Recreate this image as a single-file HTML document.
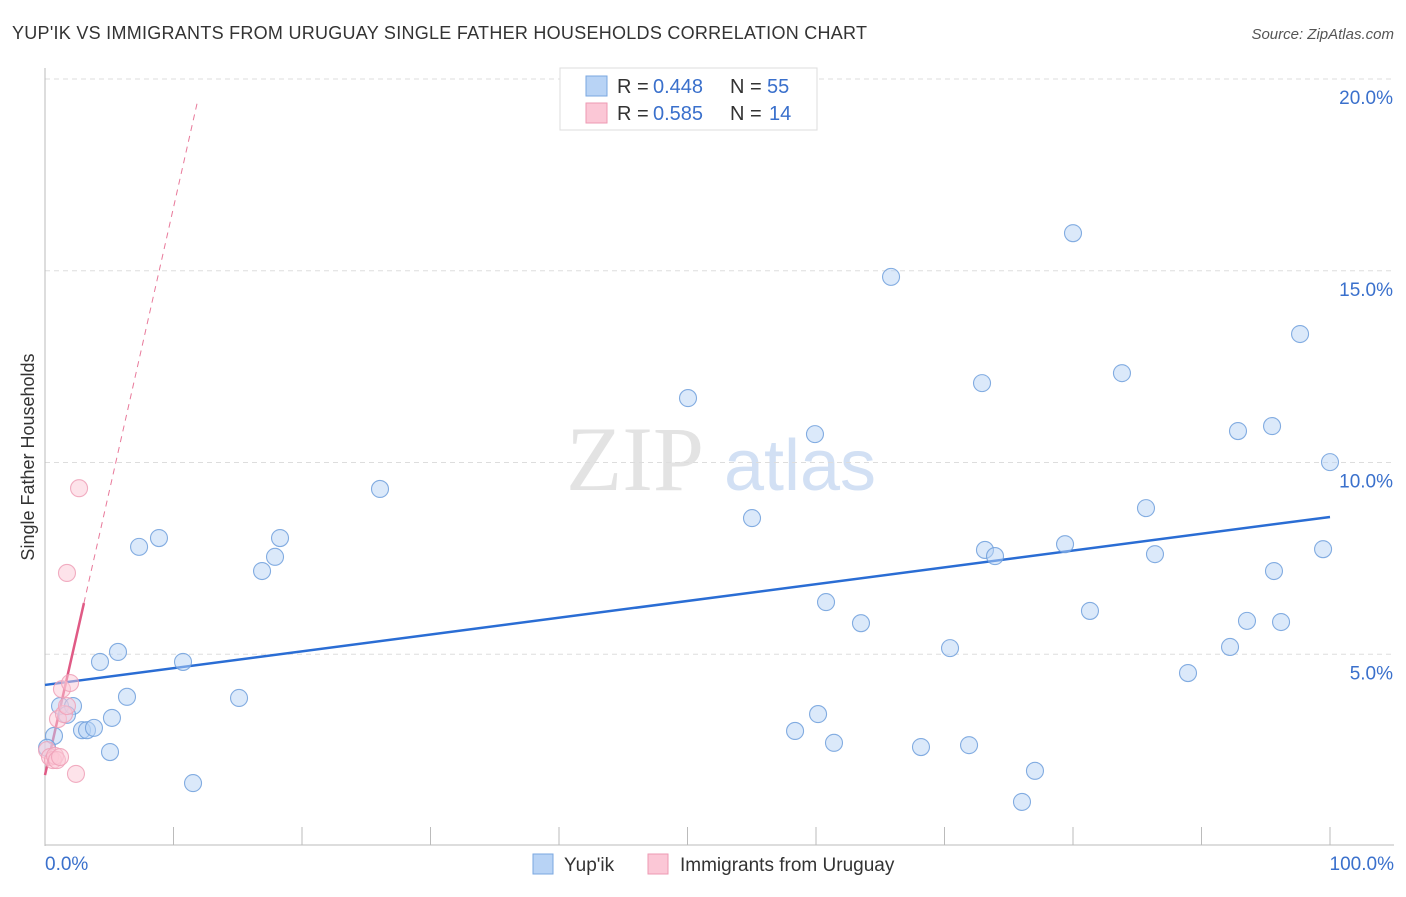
<!DOCTYPE html>
<html><head><meta charset="utf-8"><style>
body{margin:0;background:#fff;font-family:"Liberation Sans",sans-serif}
</style></head><body>
<svg width="1406" height="892" viewBox="0 0 1406 892" xmlns="http://www.w3.org/2000/svg" font-family="Liberation Sans, sans-serif">
<text x="12" y="39" font-size="18" fill="#333" textLength="855">YUP'IK VS IMMIGRANTS FROM URUGUAY SINGLE FATHER HOUSEHOLDS CORRELATION CHART</text>
<text x="1394" y="39" font-size="15" fill="#555" font-style="italic" text-anchor="end">Source: ZipAtlas.com</text>
<g>
<text x="635" y="490" font-size="92" fill="#ddd" font-family="Liberation Serif, serif" text-anchor="middle" opacity="0.8">ZIP</text>
<text x="800" y="490" font-size="72" fill="#c7d9f2" text-anchor="middle" opacity="0.8">atlas</text>
</g>
<g id="grid"></g>
<g id="axes"></g>
<text transform="translate(34,457) rotate(-90)" font-size="18" fill="#333" text-anchor="middle">Single Father Households</text>
<g id="lines"></g>
<g id="pts"></g>
<g>
<rect x="560" y="68" width="257" height="62" fill="#fff" stroke="#ddd"/>
<rect x="586" y="76" width="21" height="20" fill="#b8d3f5" stroke="#7aa7e0"/>
<text x="617" y="93" font-size="20" fill="#333">R =</text>
<text x="653" y="93" font-size="20" fill="#3a70cc">0.448</text>
<text x="730" y="93" font-size="20" fill="#333">N =</text>
<text x="767" y="93" font-size="20" fill="#3a70cc">55</text>
<rect x="586" y="103" width="21" height="20" fill="#fbc7d6" stroke="#ee9ab3"/>
<text x="617" y="120" font-size="20" fill="#333">R =</text>
<text x="653" y="120" font-size="20" fill="#3a70cc">0.585</text>
<text x="730" y="120" font-size="20" fill="#333">N =</text>
<text x="769" y="120" font-size="20" fill="#3a70cc">14</text>
</g>
<g>
<rect x="533" y="854" width="20" height="20" fill="#b8d3f5" stroke="#7aa7e0"/>
<text x="564" y="871" font-size="19" fill="#333">Yup'ik</text>
<rect x="648" y="854" width="20" height="20" fill="#fbc7d6" stroke="#ee9ab3"/>
<text x="680" y="871" font-size="19" fill="#333">Immigrants from Uruguay</text>
</g>
</svg>
<script>
const yTicks=[5,10,15,20];
const yTickLabels=["5.0%","10.0%","15.0%","20.0%"];
const xEndLabels=["0.0%","100.0%"];
const blueX=[0.7,0.16,1.17,2.18,2.88,3.27,3.81,4.28,5.21,5.68,5.06,6.38,7.32,8.87,10.74,11.52,15.1,16.89,17.9,18.29,26.07,50.04,55.02,58.37,59.92,60.16,60.78,61.4,63.5,65.84,68.17,70.43,71.91,72.92,73.15,73.93,76.03,77.04,79.38,80,81.32,83.81,85.68,86.38,88.95,92.22,92.84,93.54,95.49,95.64,96.19,97.67,99.46,100,1.71];
const blueY=[2.87,2.56,3.65,3.65,3.02,3.02,3.08,4.8,3.34,5.06,2.45,3.89,7.8,8.03,4.8,1.64,3.86,7.17,7.54,8.03,9.31,11.68,8.55,3.0,10.74,3.44,6.36,2.69,5.81,14.84,2.58,5.16,2.63,12.07,7.72,7.56,1.15,1.96,7.87,15.98,6.13,12.33,8.81,7.61,4.51,5.19,10.82,5.87,10.95,7.17,5.84,13.35,7.74,10.01,3.42];
const pinkX=[0.16,0.39,0.62,0.78,1.01,1.32,1.48,1.71,1.95,1.71,2.65,2.41,0.93,1.17];
const pinkY=[2.5,2.32,2.24,2.35,3.31,4.09,3.44,3.65,4.25,7.12,9.33,1.88,2.24,2.32];
const blueFit=[4.2,0.0438]; // intercept, slope
const pinkFit=[1.85,1.48];
const pinkSolidEnd=3.03, pinkDashEnd=11.83;
const NS="http://www.w3.org/2000/svg";
const X=v=>45+v*12.85, Y=v=>846-v*38.35;
function mk(tag,attrs,parent){const e=document.createElementNS(NS,tag);for(const k in attrs)e.setAttribute(k,attrs[k]);document.getElementById(parent).appendChild(e);return e;}
yTicks.forEach((t,i)=>{
 const g=mk('line',{x1:45,x2:1394,y1:Y(t),y2:Y(t),stroke:'#ddd','stroke-dasharray':'5,4'},'grid');
 
 
 const l=mk('text',{x:1393,y:Y(t)+25,'font-size':19,fill:'#3a70cc','text-anchor':'end'},'axes');
 l.textContent=yTickLabels[i];
 
 
});
mk('line',{x1:45,x2:45,y1:68,y2:846,stroke:'#bbb'},'axes');
mk('line',{x1:45,x2:1394,y1:845,y2:845,stroke:'#bbb'},'axes');
for(let i=0;i<=10;i++){mk('line',{x1:X(i*10),x2:X(i*10),y1:827,y2:845,stroke:'#bbb'},'axes');}
[[45,'start',0],[1394,'end',1]].forEach(([x,a,i])=>{const t=mk('text',{x:x,y:870,'font-size':19,fill:'#3a70cc','text-anchor':a},'axes');t.textContent=xEndLabels[i];
 
 });
function pts(xs,ys,fill,stroke,name){xs.forEach((x,i)=>{const c=mk('circle',{cx:X(x),cy:Y(ys[i]),r:8.5,fill:fill,stroke:stroke,'stroke-width':1.1,'fill-opacity':0.5,'stroke-opacity':0.85},'pts');
 
 });}
pts(blueX,blueY,'#b8d3f5','#6f9fdc','yupik-point');
pts(pinkX,pinkY,'#fbc7d6','#eea0b7','uruguay-point');
const bl=mk('line',{x1:X(0),y1:Y(blueFit[0]),x2:X(100),y2:Y(blueFit[0]+blueFit[1]*100),stroke:'#2a6dd4','stroke-width':2.5},'lines');


const pd=mk('line',{x1:X(pinkSolidEnd),y1:Y(pinkFit[0]+pinkFit[1]*pinkSolidEnd),x2:X(pinkDashEnd),y2:Y(pinkFit[0]+pinkFit[1]*pinkDashEnd),stroke:'#e8799a','stroke-width':1,'stroke-dasharray':'6,5'},'lines');


const ps=mk('line',{x1:X(0),y1:Y(pinkFit[0]),x2:X(pinkSolidEnd),y2:Y(pinkFit[0]+pinkFit[1]*pinkSolidEnd),stroke:'#e05a85','stroke-width':2.5},'lines');


</script>
</body></html>
